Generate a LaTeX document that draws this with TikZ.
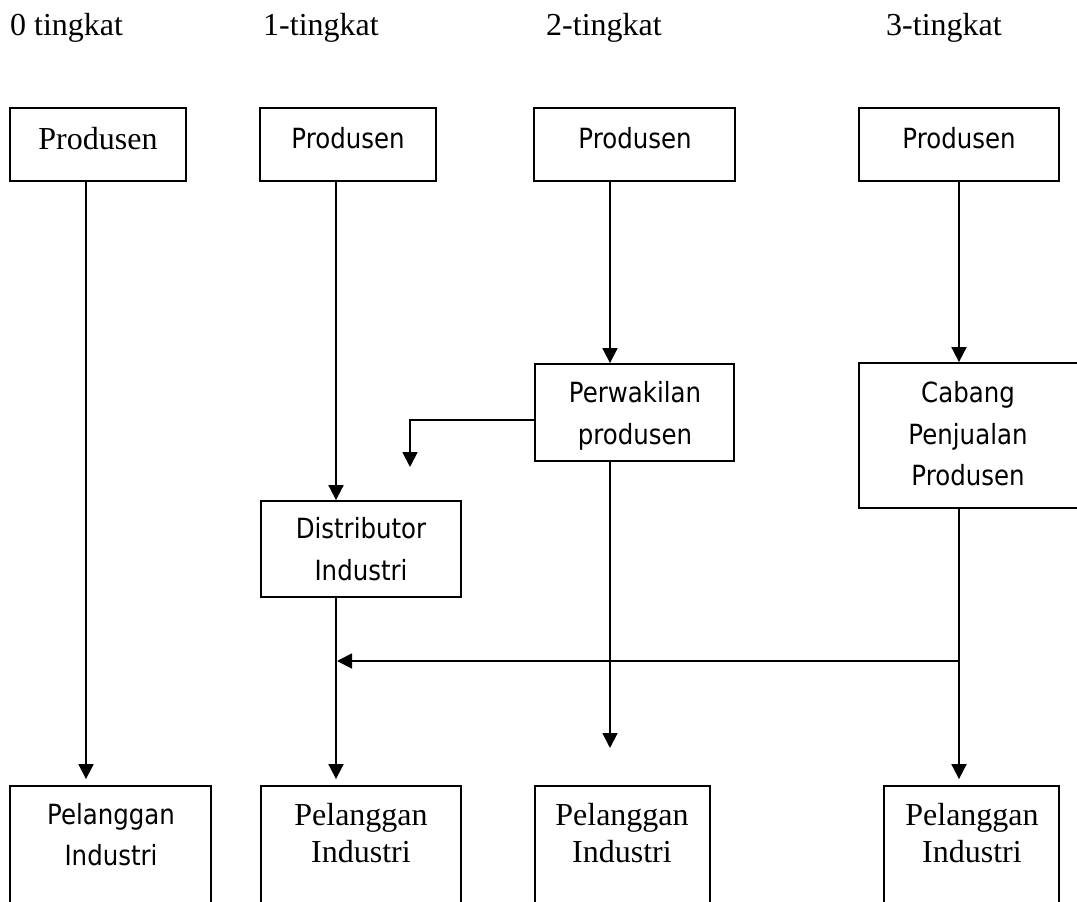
\documentclass[tikz,border=0pt]{standalone}
\usepackage{fontspec}
\setmainfont{Liberation Serif}
\newfontfamily\tahfont[FakeStretch=0.88]{DejaVu Sans}
\usetikzlibrary{arrows.meta}
\tikzset{
  box/.style={draw, rectangle, inner sep=0pt, line width=1.8pt},
  arr/.style={line width=1.8pt, -{Triangle[length=15pt,width=15pt]}},
  serif/.style={font=\fontsize{32}{37}\selectfont, inner sep=0pt, anchor=base},
  sans/.style={font=\tahfont\fontsize{27.8}{42}\selectfont, inner sep=0pt, anchor=base},
}
\begin{document}
\begin{tikzpicture}[x=1pt,y=-1pt]
\useasboundingbox (0,0) rectangle (1077,902);
% headers
\node[serif, anchor=base west] (h0) at (10,35) {0 tingkat};
\node[serif, anchor=base west] (h1) at (263,35) {1-tingkat};
\node[serif, anchor=base west] (h2) at (546,35) {2-tingkat};
\node[serif, anchor=base west] (h3) at (886,35) {3-tingkat};
% top boxes
\node[box, minimum width=176pt, minimum height=73pt] (p0) at (98,144.5) {};
\node[box, minimum width=176pt, minimum height=73pt] (p1) at (348,144.5) {};
\node[box, minimum width=201pt, minimum height=73pt] (p2) at (634.5,144.5) {};
\node[box, minimum width=200pt, minimum height=73pt] (p3) at (959,144.5) {};
\node[serif] (tp0) at (98,149) {Produsen};
\node[sans] (tp1) at (348,148) {Produsen};
\node[sans] (tp2) at (635,148) {Produsen};
\node[sans] (tp3) at (959,148) {Produsen};
% middle boxes
\node[box, minimum width=199pt, minimum height=97pt] (pw) at (634.5,412.5) {};
\node[sans] (tpw1) at (635,402) {Perwakilan};
\node[sans] (tpw2) at (635,444) {produsen};
\node[box, minimum width=200pt, minimum height=96pt] (di) at (361,549) {};
\node[sans] (tdi1) at (361,538) {Distributor};
\node[sans] (tdi2) at (361,580) {Industri};
\node[box, minimum width=226pt, minimum height=145pt] (cb) at (972,435.5) {};
\node[sans] (tcb1) at (968,402) {Cabang};
\node[sans] (tcb2) at (968,444) {Penjualan};
\node[sans] (tcb3) at (968,485) {Produsen};
% bottom boxes
\node[box, minimum width=201pt, minimum height=144pt] (c0) at (110.5,858) {};
\node[box, minimum width=200pt, minimum height=144pt] (c1) at (361,858) {};
\node[box, minimum width=175pt, minimum height=144pt] (c2) at (622.5,858) {};
\node[box, minimum width=175pt, minimum height=144pt] (c3) at (971.5,858) {};
\node[sans] (tc0a) at (111,824) {Pelanggan};
\node[sans] (tc0b) at (111,865) {Industri};
\node[serif] (tc1a) at (361,825) {Pelanggan};
\node[serif] (tc1b) at (361,862) {Industri};
\node[serif] (tc2a) at (622,825) {Pelanggan};
\node[serif] (tc2b) at (622,862) {Industri};
\node[serif] (tc3a) at (972,825) {Pelanggan};
\node[serif] (tc3b) at (972,862) {Industri};
% guide coordinates
\coordinate (x0) at (86,0);
\coordinate (x1) at (336,0);
\coordinate (x2) at (610,0);
\coordinate (x3) at (959,0);
\coordinate (e1) at (410,467);
\coordinate (e2) at (610,748);
\coordinate (hj) at (959,661);
% connectors
\draw[arr, shorten >=6pt] (p0.south -| x0) -- (c0.north -| x0);
\draw[arr] (p1.south -| x1) -- (di.north -| x1);
\draw[arr, shorten >=6pt] (di.south -| x1) -- (c1.north -| x1);
\draw[arr] (p2.south -| x2) -- (pw.north -| x2);
\draw[arr] ([yshift=-7.5pt]pw.west) -| (e1);
\draw[arr] (pw.south -| x2) -- (e2);
\draw[arr] (p3.south -| x3) -- (cb.north -| x3);
\draw[arr, shorten >=6pt] (cb.south -| x3) -- (c3.north -| x3);
\draw[arr, shorten >=1pt] (hj) -- (hj -| x1);
\end{tikzpicture}
\end{document}
